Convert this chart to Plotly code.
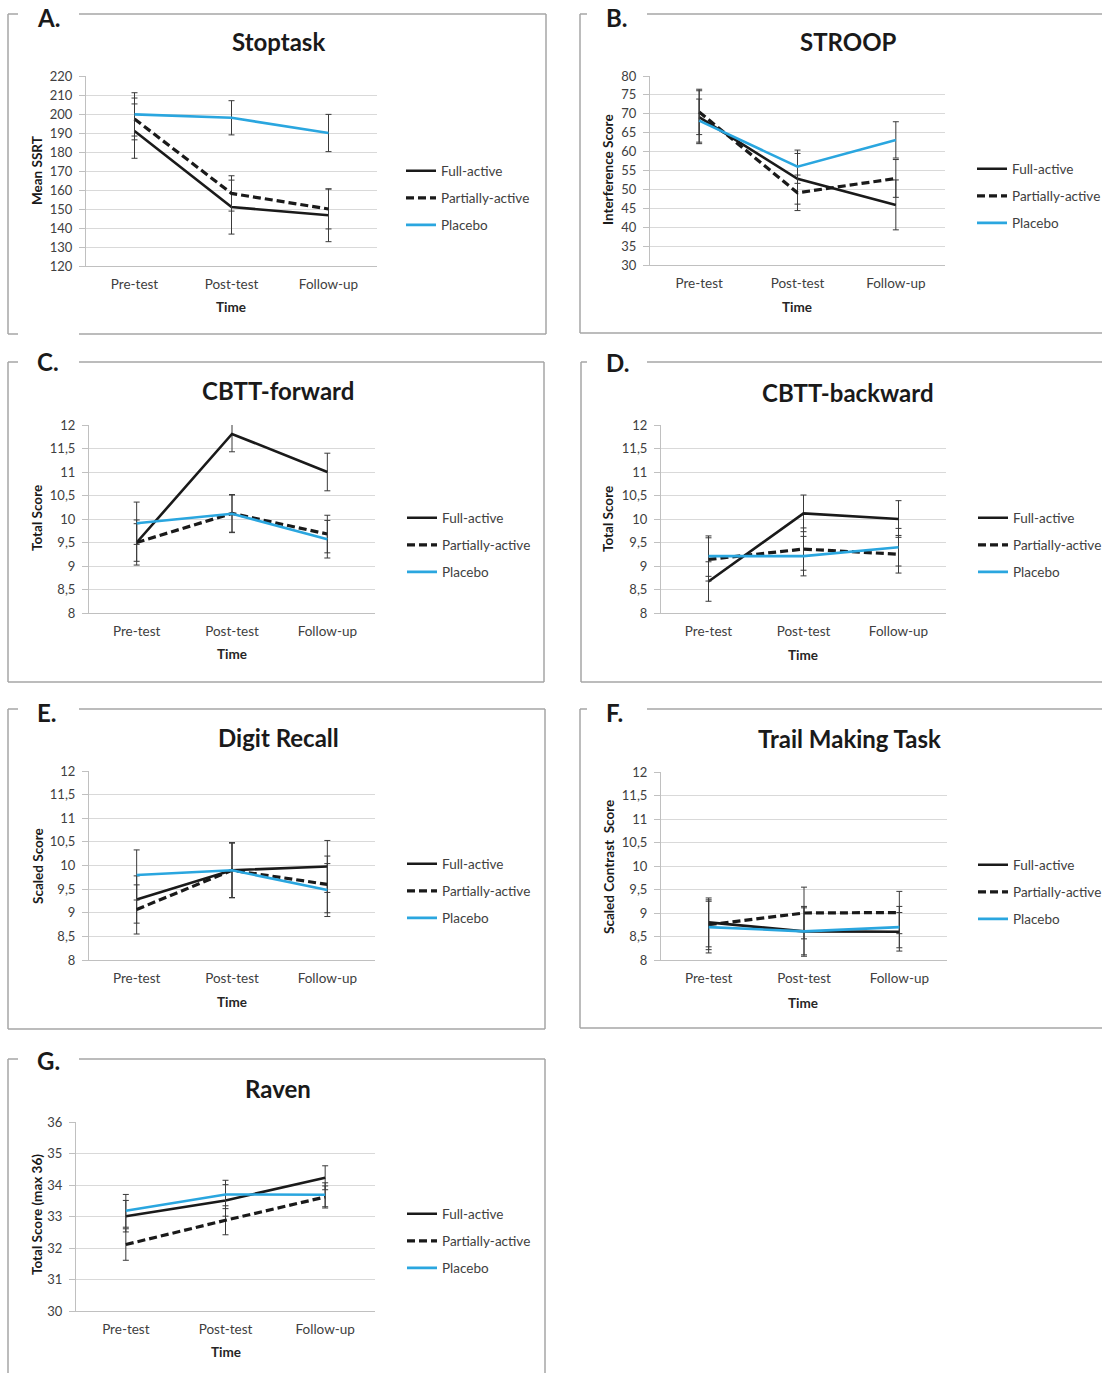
import plotly.graph_objects as go

W, H = 1102, 1373
FONT = "Lato"

times = ["Pre-test", "Post-test", "Follow-up"]
groups = ["Full-active", "Partially-active", "Placebo"]

# ---- A. Stoptask (Mean SSRT)
stop_full = [191, 151, 146.7]
stop_full_err = [14.3, 14.2, 13.9]
stop_part = [197.4, 158.2, 150]
stop_part_err = [11, 9.3, 10.5]
stop_plac = [199.8, 198, 190]
stop_plac_err = [11.4, 9, 9.8]
stop_ticks = [120, 130, 140, 150, 160, 170, 180, 190, 200, 210, 220]
stop_ticktext = ["120", "130", "140", "150", "160", "170", "180", "190", "200", "210", "220"]

# ---- B. STROOP (Interference Score)
stroop_full = [69.1, 52.8, 45.9]
stroop_full_err = [7, 6.7, 6.6]
stroop_part = [70.5, 49.1, 52.9]
stroop_part_err = [6, 4.7, 5]
stroop_plac = [68.2, 56, 63.1]
stroop_plac_err = [5.7, 4.4, 4.8]
stroop_ticks = [30, 35, 40, 45, 50, 55, 60, 65, 70, 75, 80]
stroop_ticktext = ["30", "35", "40", "45", "50", "55", "60", "65", "70", "75", "80"]

# ---- C. CBTT-forward (Total Score)
cbf_full = [9.5, 11.81, 11.0]
cbf_full_err = [0.48, 0.38, 0.4]
cbf_part = [9.5, 10.12, 9.68]
cbf_part_err = [0.4, 0.4, 0.4]
cbf_plac = [9.91, 10.11, 9.57]
cbf_plac_err = [0.45, 0.4, 0.4]

# ---- D. CBTT-backward (Total Score)
cbb_full = [8.67, 10.12, 10.0]
cbb_full_err = [0.42, 0.39, 0.39]
cbb_part = [9.14, 9.36, 9.25]
cbb_part_err = [0.46, 0.45, 0.4]
cbb_plac = [9.21, 9.21, 9.4]
cbb_plac_err = [0.43, 0.42, 0.4]

# ---- E. Digit Recall (Scaled Score)
dig_full = [9.28, 9.9, 9.98]
dig_full_err = [0.5, 0.58, 0.55]
dig_part = [9.07, 9.9, 9.6]
dig_part_err = [0.52, 0.58, 0.6]
dig_plac = [9.8, 9.9, 9.48]
dig_plac_err = [0.53, 0.58, 0.56]

# ---- F. Trail Making Task (Scaled Contrast Score)
tmt_full = [8.8, 8.61, 8.6]
tmt_full_err = [0.52, 0.53, 0.41]
tmt_part = [8.75, 9.0, 9.01]
tmt_part_err = [0.53, 0.55, 0.45]
tmt_plac = [8.7, 8.61, 8.7]
tmt_plac_err = [0.55, 0.5, 0.44]

score_ticks = [8, 8.5, 9, 9.5, 10, 10.5, 11, 11.5, 12]
score_ticktext = ["8", "8,5", "9", "9,5", "10", "10,5", "11", "11,5", "12"]

# ---- G. Raven (Total Score (max 36))
rav_full = [33.01, 33.51, 34.23]
rav_full_err = [0.5, 0.5, 0.38]
rav_part = [32.11, 32.88, 33.62]
rav_part_err = [0.5, 0.46, 0.35]
rav_plac = [33.18, 33.7, 33.69]
rav_plac_err = [0.52, 0.45, 0.38]
rav_ticks = [30, 31, 32, 33, 34, 35, 36]
rav_ticktext = ["30", "31", "32", "33", "34", "35", "36"]

panels = [
    dict(letter="A.", title="Stoptask", ytitle="Mean SSRT",
         series=[(stop_full, stop_full_err), (stop_part, stop_part_err), (stop_plac, stop_plac_err)],
         ticks=stop_ticks, ticktext=stop_ticktext, yr=[120, 220]),
    dict(letter="B.", title="STROOP", ytitle="Interference Score",
         series=[(stroop_full, stroop_full_err), (stroop_part, stroop_part_err), (stroop_plac, stroop_plac_err)],
         ticks=stroop_ticks, ticktext=stroop_ticktext, yr=[30, 80]),
    dict(letter="C.", title="CBTT-forward", ytitle="Total Score",
         series=[(cbf_full, cbf_full_err), (cbf_part, cbf_part_err), (cbf_plac, cbf_plac_err)],
         ticks=score_ticks, ticktext=score_ticktext, yr=[8, 12]),
    dict(letter="D.", title="CBTT-backward", ytitle="Total Score",
         series=[(cbb_full, cbb_full_err), (cbb_part, cbb_part_err), (cbb_plac, cbb_plac_err)],
         ticks=score_ticks, ticktext=score_ticktext, yr=[8, 12]),
    dict(letter="E.", title="Digit Recall", ytitle="Scaled Score",
         series=[(dig_full, dig_full_err), (dig_part, dig_part_err), (dig_plac, dig_plac_err)],
         ticks=score_ticks, ticktext=score_ticktext, yr=[8, 12]),
    dict(letter="F.", title="Trail Making Task", ytitle="Scaled Contrast  Score",
         series=[(tmt_full, tmt_full_err), (tmt_part, tmt_part_err), (tmt_plac, tmt_plac_err)],
         ticks=score_ticks, ticktext=score_ticktext, yr=[8, 12]),
    dict(letter="G.", title="Raven", ytitle="Total Score (max 36)",
         series=[(rav_full, rav_full_err), (rav_part, rav_part_err), (rav_plac, rav_plac_err)],
         ticks=rav_ticks, ticktext=rav_ticktext, yr=[30, 36]),
]

# ---- layout geometry (pixels)
geo = [
    dict(px=(86, 377), py=(76, 266), title=(278, 42), letter=(35, 17), ytit=(37, 171), xtit=(231, 307), leg=(401, 198)),
    dict(px=(650, 945), py=(76, 265), title=(848, 42), letter=(604, 17), ytit=(608, 170), xtit=(797, 307), leg=(972, 196)),
    dict(px=(89, 375), py=(425, 613), title=(278, 391), letter=(35, 362), ytit=(37, 518), xtit=(232, 654), leg=(402, 545)),
    dict(px=(661, 946), py=(425, 613), title=(848, 392), letter=(604, 363), ytit=(608, 519), xtit=(803, 655), leg=(973, 545)),
    dict(px=(89, 375), py=(771, 960), title=(278, 737), letter=(35, 712), ytit=(38, 866), xtit=(232, 1002), leg=(402, 891)),
    dict(px=(661, 947), py=(772, 960), title=(849, 738), letter=(604, 712), ytit=(609, 867), xtit=(803, 1003), leg=(973, 892)),
    dict(px=(76, 375), py=(1122, 1311), title=(278, 1088), letter=(35, 1060), ytit=(37, 1215), xtit=(226, 1352), leg=(402, 1241)),
]

styles = [
    dict(color="#1a1a1a", width=2.6, dash="solid"),
    dict(color="#1a1a1a", width=3.2, dash="8px,4px"),
    dict(color="#2aa6df", width=2.6, dash="solid"),
]

def fx(p):
    return p / W

def fy(p):
    return 1 - p / H

fig = go.Figure()
layout = dict(width=W, height=H, margin=dict(l=0, r=0, t=0, b=0, pad=0, autoexpand=False),
              paper_bgcolor="white", plot_bgcolor="white", showlegend=True)
annotations = []
shapes = []

for i, (pan, g) in enumerate(zip(panels, geo)):
    n = "" if i == 0 else str(i + 1)
    legname = "legend" + n
    for j, ((vals, err), st) in enumerate(zip(pan["series"], styles)):
        fig.add_trace(go.Scatter(
            x=times, y=vals, mode="lines", name=groups[j],
            line=dict(color=st["color"], width=st["width"], dash=st["dash"]),
            error_y=dict(type="data", array=err, visible=True, color="#3a3a3a", thickness=1, width=3),
            xaxis="x" + n, yaxis="y" + n, legend=legname, legendgroup=f"{i}_{j}",
            hoverinfo="skip",
        ))
    layout["xaxis" + n] = dict(
        domain=[fx(g["px"][0]), fx(g["px"][1])], anchor="y" + n,
        type="category", categoryorder="array", categoryarray=times, range=[-0.5, 2.5],
        showgrid=False, showline=True, linecolor="#c0c0c0", linewidth=1, ticks="",
        tickfont=dict(family=FONT, size=13.5, color="#404040"), ticklabelstandoff=6,
        fixedrange=True, zeroline=False, automargin=False,
    )
    layout["yaxis" + n] = dict(
        domain=[fy(g["py"][1]), fy(g["py"][0])], anchor="x" + n,
        range=pan["yr"], tickmode="array", tickvals=pan["ticks"], ticktext=pan["ticktext"],
        showgrid=True, gridcolor="#d9d9d9", gridwidth=1, showline=True, linecolor="#c0c0c0", linewidth=1,
        ticks="outside", ticklen=6, tickcolor="#c0c0c0", zeroline=False, automargin=False,
        tickfont=dict(family=FONT, size=13, color="#404040"), ticklabelstandoff=4, fixedrange=True,
    )
    layout[legname] = dict(
        x=fx(g["leg"][0]), y=fy(g["leg"][1]), xanchor="left", yanchor="middle",
        bgcolor="rgba(0,0,0,0)", borderwidth=0, tracegroupgap=6.5, traceorder="grouped",
        font=dict(family=FONT, size=13.5, color="#404040"), itemclick=False, itemdoubleclick=False,
    )
    annotations.append(dict(text="<b>" + pan["title"] + "</b>", x=fx(g["title"][0]), y=fy(g["title"][1]),
                            xref="paper", yref="paper", xanchor="center", yanchor="middle", showarrow=False,
                            font=dict(family=FONT, size=24, color="#1a1a1a")))
    annotations.append(dict(text="<b>" + pan["letter"] + "</b>", x=fx(g["letter"][0]), y=fy(g["letter"][1]),
                            xref="paper", yref="paper", xanchor="left", yanchor="middle", showarrow=False,
                            font=dict(family=FONT, size=24, color="#1a1a1a")))
    annotations.append(dict(text="<b>" + pan["ytitle"] + "</b>", x=fx(g["ytit"][0]), y=fy(g["ytit"][1]),
                            xref="paper", yref="paper", xanchor="center", yanchor="middle", showarrow=False,
                            textangle=-90, font=dict(family=FONT, size=13.5, color="#1a1a1a")))
    annotations.append(dict(text="<b>Time</b>", x=fx(g["xtit"][0]), y=fy(g["xtit"][1]),
                            xref="paper", yref="paper", xanchor="center", yanchor="middle", showarrow=False,
                            font=dict(family=FONT, size=13.5, color="#262626")))

# ---- panel frames (pixel coordinates of frame segments)
frame_segments = [
    # A
    (8, 14, 18, 14), (79, 14, 546, 14), (8, 14, 8, 334), (546, 14, 546, 334), (8, 334, 18, 334), (79, 334, 546, 334),
    # B
    (580, 14, 587, 14), (647, 14, 1102, 14), (580, 14, 580, 333), (580, 333, 1102, 333),
    # C
    (8, 362, 18, 362), (79, 362, 544, 362), (8, 362, 8, 682), (544, 362, 544, 682), (8, 682, 544, 682),
    # D
    (581, 362, 587, 362), (647, 362, 1102, 362), (581, 362, 581, 682), (581, 682, 1102, 682),
    # E
    (8, 709, 18, 709), (79, 709, 545, 709), (8, 709, 8, 1029), (545, 709, 545, 1029), (8, 1029, 545, 1029),
    # F
    (580, 709, 587, 709), (647, 709, 1102, 709), (580, 709, 580, 1028), (580, 1028, 1102, 1028),
    # G
    (8, 1059, 18, 1059), (79, 1059, 545, 1059), (8, 1059, 8, 1373), (545, 1059, 545, 1373),
]
for (x0, y0, x1, y1) in frame_segments:
    shapes.append(dict(type="line", xref="paper", yref="paper", x0=fx(x0), y0=fy(y0), x1=fx(x1), y1=fy(y1),
                       line=dict(color="#a6a6a6", width=1.5)))

layout["annotations"] = annotations
layout["shapes"] = shapes
fig.update_layout(**layout)
fig.write_html("out.html", config={"displayModeBar": False, "staticPlot": True},
               post_script="document.body.style.margin='0';document.body.style.padding='0';document.body.style.overflow='hidden';")
